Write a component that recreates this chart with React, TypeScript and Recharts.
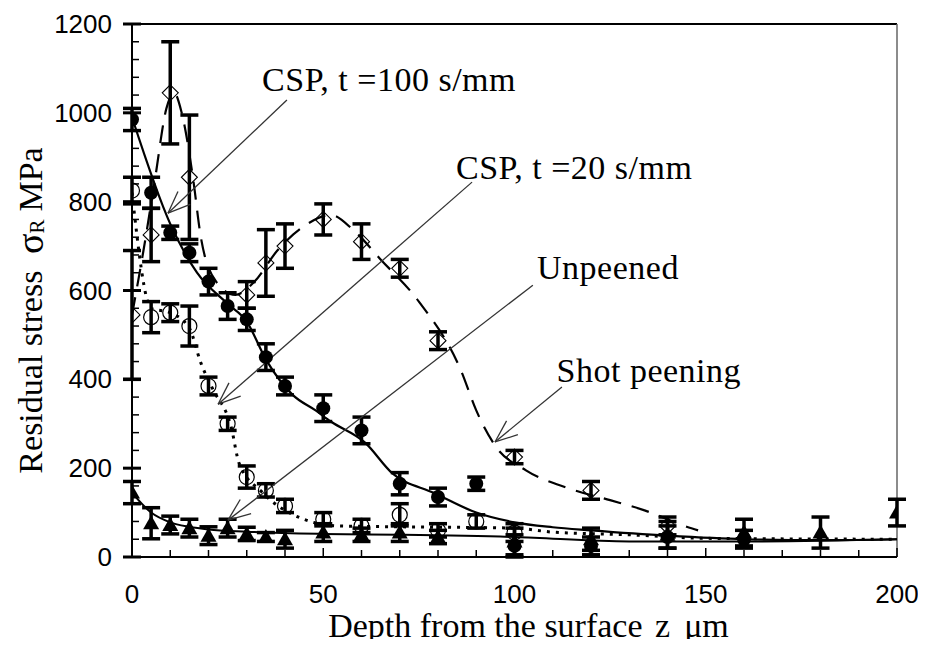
import React from "react";
import {
  ComposedChart,
  Line,
  Scatter,
  ErrorBar,
  XAxis,
  YAxis,
  ReferenceLine,
  ReferenceDot,
} from "recharts";

// measured points (depth in um, stress in MPa, +/- error)
const depthT100 = [0, 5, 10, 15, 20, 25, 30, 35, 40, 50, 60, 70, 80, 90, 100, 120, 140, 160];
const stressT100 = [985, 820, 730, 685, 620, 565, 535, 450, 385, 335, 285, 165, 135, 165, 25, 25, 45, 40];
const errT100 = [25, 35, 15, 20, 30, 30, 25, 30, 20, 30, 30, 25, 20, 15, 25, 20, 25, 20];

const depthT20 = [0, 5, 10, 15, 20, 25, 30, 35, 40, 50, 60, 70, 80, 90, 100];
const stressT20 = [825, 540, 550, 520, 385, 300, 180, 150, 115, 85, 70, 95, 60, 80, 55];
const errT20 = [30, 35, 20, 45, 20, 15, 25, 15, 15, 15, 15, 25, 15, 15, 20];

const depthShot = [0, 5, 10, 15, 30, 35, 40, 50, 60, 70, 80, 100, 120, 140];
const stressShot = [545, 725, 1045, 855, 590, 662, 700, 760, 710, 650, 487, 225, 150, 70];
const errShot = [145, 60, 115, 140, 30, 75, 50, 35, 40, 20, 20, 15, 20, 20];

const depthUnp = [0, 5, 10, 15, 20, 25, 30, 35, 40, 50, 60, 70, 80, 100, 120, 140, 160, 180, 200];
const stressUnp = [145, 76, 72, 65, 48, 65, 52, 45, 40, 55, 50, 55, 45, 35, 40, 50, 55, 55, 100];
const errUnp = [25, 35, 20, 20, 20, 20, 15, 10, 20, 20, 15, 20, 15, 30, 25, 30, 30, 35, 30];

// trend curves, vertices
const t100CurveX = [0, 10, 17, 25, 30, 35, 42, 48, 52, 61, 68, 79, 90, 100, 110, 120, 140, 160, 180, 200];
const t100CurveY = [990, 750, 640, 570, 530, 445, 365, 330, 305, 257, 189, 144, 100, 78, 67, 60, 48, 40, 38, 40];

const t20CurveX = [0, 5, 10, 15, 18, 21, 26, 28, 34, 44, 54, 70, 100, 110, 130, 150, 200];
const t20CurveY = [820, 560, 550, 515, 437, 380, 290, 211, 146, 88, 70, 68, 65, 56, 50, 42, 40];

const shotCurveX = [0, 3, 6, 9, 11, 13, 16, 18, 22, 27, 32, 38, 45, 52, 58, 65, 75, 86, 90, 95, 103, 114, 125, 134, 145, 148];
const shotCurveY = [545, 690, 850, 1010, 1045, 1000, 850, 720, 620, 590, 620, 690, 745, 770, 735, 670, 575, 420, 330, 250, 195, 155, 128, 105, 68, 60];

const unpCurveX = [0, 5, 10, 15, 20, 30, 50, 70, 100, 130, 160, 200];
const unpCurveY = [145, 100, 78, 68, 62, 57, 52, 50, 45, 35, 35, 40];

const xTicks = [0, 10, 20, 30, 40, 50, 60, 70, 80, 90, 100, 110, 120, 130, 140, 150, 160, 170, 180, 190, 200];
const yTicks = [0, 40, 80, 120, 160, 200, 240, 280, 320, 360, 400, 440, 480, 520, 560, 600, 640, 680, 720, 760, 800, 840, 880, 920, 960, 1000, 1040, 1080, 1120, 1160, 1200];

// annotation labels and their arrows (tail -> head)
const labels = ["CSP, t =100 s/mm", "CSP, t =20 s/mm", "Unpeened", "Shot peening"];
const labelX = [34, 84.7, 105.9, 111];
const labelY = [1074, 878, 651, 421];
const arrowTail = [[40.5, 1029], [88.9, 844], [104.8, 612], [112.4, 383]];
const arrowHead = [[9.4, 774], [22.5, 344], [25.1, 83], [94.9, 259]];

const zip = (xs: number[], ys: number[], es?: number[]) =>
  xs.map((x, i) => ({ x, y: ys[i], e: es ? es[i] : 0 }));

const SERIF = "'Liberation Serif', 'Times New Roman', serif";
const SANS = "'Liberation Sans', Arial, sans-serif";

const FilledCircle = (p: any) => <circle cx={p.cx} cy={p.cy} r={7} fill="#000" />;
const OpenCircle = (p: any) => (
  <circle cx={p.cx} cy={p.cy} r={7.5} fill="none" stroke="#000" strokeWidth={1.2} />
);
const OpenDiamond = (p: any) => (
  <polygon
    points={`${p.cx},${p.cy - 8} ${p.cx + 8},${p.cy} ${p.cx},${p.cy + 8} ${p.cx - 8},${p.cy}`}
    fill="none"
    stroke="#000"
    strokeWidth={1.1}
  />
);
const FilledTriangle = (p: any) => (
  <polygon
    points={`${p.cx},${p.cy - 8} ${p.cx + 8},${p.cy + 6} ${p.cx - 8},${p.cy + 6}`}
    fill="#000"
  />
);

const XTick = (p: any) => {
  const major = p.payload.value % 50 === 0;
  return (
    <g>
      <line x1={p.x} x2={p.x} y1={p.y} y2={p.y - (major ? 9 : 7)} stroke="#000" strokeWidth={1.5} />
      {major && (
        <text x={p.x} y={p.y + 46} textAnchor="middle" fontFamily={SANS} fontSize={26} fill="#000">
          {p.payload.value}
        </text>
      )}
    </g>
  );
};

const YTick = (p: any) => {
  const major = p.payload.value % 200 === 0;
  return (
    <g>
      {major ? (
        <line x1={p.x - 9} x2={p.x + 9} y1={p.y} y2={p.y} stroke="#000" strokeWidth={3} />
      ) : (
        <line x1={p.x} x2={p.x + 7} y1={p.y} y2={p.y} stroke="#000" strokeWidth={1.5} />
      )}
      {major && (
        <text x={p.x - 20} y={p.y + 9} textAnchor="end" fontFamily={SANS} fontSize={26} fill="#000">
          {p.payload.value}
        </text>
      )}
    </g>
  );
};

const Arrow = (p: any) => {
  const { x1, y1, x2, y2 } = p;
  const ang = Math.atan2(y1 - y2, x1 - x2);
  const len = 24;
  const spread = 0.38;
  const a1 = [x2 + len * Math.cos(ang + spread), y2 + len * Math.sin(ang + spread)];
  const a2 = [x2 + len * Math.cos(ang - spread), y2 + len * Math.sin(ang - spread)];
  return (
    <g stroke="#333" strokeWidth={1.3} fill="none">
      <line x1={x1} y1={y1} x2={x2} y2={y2} />
      <line x1={x2} y1={y2} x2={a1[0]} y2={a1[1]} />
      <line x1={x2} y1={y2} x2={a2[0]} y2={a2[1]} />
    </g>
  );
};

export default function App() {
  return (
    <div style={{ height: 631 }}>
      <ComposedChart
        width={918}
        height={639}
        margin={{ top: 16, right: 29, left: 0, bottom: 0 }}
        style={{ overflow: "visible" }}
      >
        <XAxis
          type="number"
          dataKey="x"
          domain={[0, 200]}
          ticks={xTicks}
          interval={0}
          tickLine={false}
          tickSize={0}
          tickMargin={0}
          tick={<XTick />}
          axisLine={{ stroke: "#000", strokeWidth: 2 }}
          height={90}
          allowDataOverflow
          label={{
            content: (lp: any) => (
              <text
                x={lp.viewBox.x + lp.viewBox.width / 2 + 14}
                y={lp.viewBox.y + 80}
                textAnchor="middle"
                fontFamily={SERIF}
                fontSize={34}
                fill="#000"
              >
                Depth from the surface <tspan dx={4}>z</tspan>
                <tspan dx={14}>μm</tspan>
              </text>
            ),
          }}
        />
        <YAxis
          type="number"
          dataKey="y"
          domain={[0, 1200]}
          ticks={yTicks}
          interval={0}
          tickLine={false}
          tickSize={0}
          tickMargin={0}
          tick={<YTick />}
          axisLine={{ stroke: "#000", strokeWidth: 2 }}
          width={124}
          allowDataOverflow
          label={{
            content: (lp: any) => {
              const cx = 22;
              const cy = lp.viewBox.y + lp.viewBox.height / 2 + 20;
              return (
                <text
                  x={cx}
                  y={cy}
                  transform={`rotate(-90 ${cx} ${cy})`}
                  textAnchor="middle"
                  dominantBaseline="central"
                  fontFamily={SERIF}
                  fontSize={34}
                  fill="#000"
                >
                  Residual stress <tspan dx={8} fontSize={38}>σ</tspan>
                  <tspan fontSize={21} dy={7}>R</tspan>
                  <tspan dy={-7} dx={8}>MPa</tspan>
                </text>
              );
            },
          }}
        />
        <ReferenceLine y={1200} stroke="#000" strokeWidth={2} />
        <ReferenceLine x={200} stroke="#666" strokeWidth={1.5} />

        <Line
          data={zip(unpCurveX, unpCurveY)}
          dataKey="y"
          type="monotone"
          stroke="#000"
          strokeWidth={2}
          dot={false}
          isAnimationActive={false}
        />
        <Line
          data={zip(t20CurveX, t20CurveY)}
          dataKey="y"
          type="monotone"
          stroke="#000"
          strokeWidth={3}
          strokeDasharray="3 6"
          dot={false}
          isAnimationActive={false}
        />
        <Line
          data={zip(t100CurveX, t100CurveY)}
          dataKey="y"
          type="monotone"
          stroke="#000"
          strokeWidth={2.2}
          dot={false}
          isAnimationActive={false}
        />
        <Line
          data={zip(shotCurveX, shotCurveY)}
          dataKey="y"
          type="monotone"
          stroke="#000"
          strokeWidth={2.2}
          strokeDasharray="18 11"
          dot={false}
          isAnimationActive={false}
        />

        <Scatter data={zip(depthUnp, stressUnp, errUnp)} dataKey="y" shape={FilledTriangle} isAnimationActive={false}>
          <ErrorBar dataKey="e" direction="y" width={9} stroke="#000" strokeWidth={3.5} />
        </Scatter>
        <Scatter data={zip(depthT20, stressT20, errT20)} dataKey="y" shape={OpenCircle} isAnimationActive={false}>
          <ErrorBar dataKey="e" direction="y" width={9} stroke="#000" strokeWidth={3.5} />
        </Scatter>
        <Scatter data={zip(depthShot, stressShot, errShot)} dataKey="y" shape={OpenDiamond} isAnimationActive={false}>
          <ErrorBar dataKey="e" direction="y" width={9} stroke="#000" strokeWidth={3.5} />
        </Scatter>
        <Scatter data={zip(depthT100, stressT100, errT100)} dataKey="y" shape={FilledCircle} isAnimationActive={false}>
          <ErrorBar dataKey="e" direction="y" width={9} stroke="#000" strokeWidth={3.5} />
        </Scatter>

        {labels.map((_, i) => (
          <ReferenceLine
            key={"a" + i}
            segment={[
              { x: arrowTail[i][0], y: arrowTail[i][1] },
              { x: arrowHead[i][0], y: arrowHead[i][1] },
            ]}
            shape={(p: any) => <Arrow {...p} />}
          />
        ))}
        {labels.map((t, i) => (
          <ReferenceDot
            key={"l" + i}
            x={labelX[i]}
            y={labelY[i]}
            r={0}
            shape={(p: any) => (
              <text
                x={p.cx}
                y={p.cy}
                dominantBaseline="central"
                fontFamily={SERIF}
                fontSize={34}
                letterSpacing={0.5}
                fill="#000"
              >
                {t}
              </text>
            )}
          />
        ))}
      </ComposedChart>
    </div>
  );
}
